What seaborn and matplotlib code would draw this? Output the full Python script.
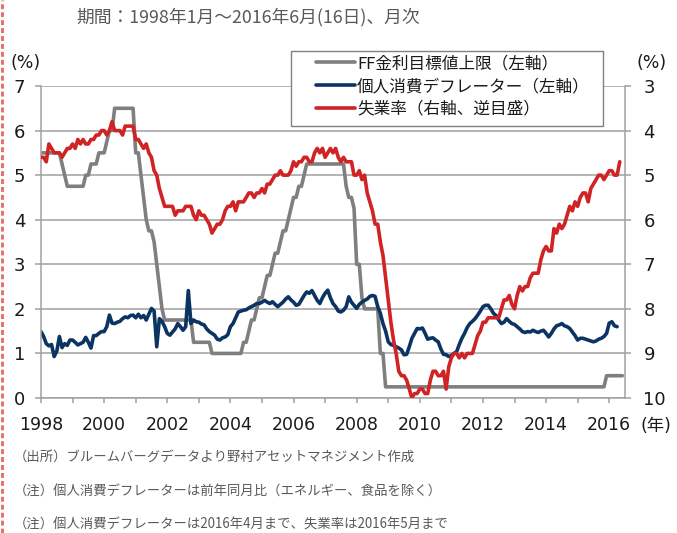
import numpy as np
import pandas as pd
import matplotlib
matplotlib.use("Agg")
import matplotlib.pyplot as plt
import seaborn as sns
from matplotlib.lines import Line2D
from matplotlib.patches import Rectangle
from matplotlib.font_manager import FontProperties

# ---------------- data (monthly, 1998-01 onward) ----------------
start_year = 1998

ff_upper = [
    5.5, 5.5, 5.5, 5.5, 5.5, 5.5, 5.5, 5.5, 5.25, 5.0, 4.75, 4.75,      # 1998
    4.75, 4.75, 4.75, 4.75, 4.75, 5.0, 5.0, 5.25, 5.25, 5.25, 5.5, 5.5,  # 1999
    5.5, 5.75, 6.0, 6.0, 6.5, 6.5, 6.5, 6.5, 6.5, 6.5, 6.5, 6.5,         # 2000
    5.5, 5.5, 5.0, 4.5, 4.0, 3.75, 3.75, 3.5, 3.0, 2.5, 2.0, 1.75,       # 2001
    1.75, 1.75, 1.75, 1.75, 1.75, 1.75, 1.75, 1.75, 1.75, 1.75, 1.25, 1.25,  # 2002
    1.25, 1.25, 1.25, 1.25, 1.25, 1.0, 1.0, 1.0, 1.0, 1.0, 1.0, 1.0,     # 2003
    1.0, 1.0, 1.0, 1.0, 1.0, 1.25, 1.25, 1.5, 1.75, 1.75, 2.0, 2.25,     # 2004
    2.25, 2.5, 2.75, 2.75, 3.0, 3.25, 3.25, 3.5, 3.75, 3.75, 4.0, 4.25,  # 2005
    4.5, 4.5, 4.75, 4.75, 5.0, 5.25, 5.25, 5.25, 5.25, 5.25, 5.25, 5.25,  # 2006
    5.25, 5.25, 5.25, 5.25, 5.25, 5.25, 5.25, 5.25, 4.75, 4.5, 4.5, 4.25,  # 2007
    3.0, 3.0, 2.25, 2.0, 2.0, 2.0, 2.0, 2.0, 2.0, 1.0, 1.0, 0.25,        # 2008
    0.25, 0.25, 0.25, 0.25, 0.25, 0.25, 0.25, 0.25, 0.25, 0.25, 0.25, 0.25,  # 2009
    0.25, 0.25, 0.25, 0.25, 0.25, 0.25, 0.25, 0.25, 0.25, 0.25, 0.25, 0.25,  # 2010
    0.25, 0.25, 0.25, 0.25, 0.25, 0.25, 0.25, 0.25, 0.25, 0.25, 0.25, 0.25,  # 2011
    0.25, 0.25, 0.25, 0.25, 0.25, 0.25, 0.25, 0.25, 0.25, 0.25, 0.25, 0.25,  # 2012
    0.25, 0.25, 0.25, 0.25, 0.25, 0.25, 0.25, 0.25, 0.25, 0.25, 0.25, 0.25,  # 2013
    0.25, 0.25, 0.25, 0.25, 0.25, 0.25, 0.25, 0.25, 0.25, 0.25, 0.25, 0.25,  # 2014
    0.25, 0.25, 0.25, 0.25, 0.25, 0.25, 0.25, 0.25, 0.25, 0.25, 0.25, 0.5,   # 2015
    0.5, 0.5, 0.5, 0.5, 0.5, 0.5,                                        # 2016
]

core_pce = [
    1.49, 1.38, 1.22, 1.17, 1.20, 0.93, 1.05, 1.38, 1.13, 1.22, 1.18, 1.30,  # 1998
    1.30, 1.25, 1.19, 1.22, 1.25, 1.36, 1.25, 1.12, 1.40, 1.40, 1.45, 1.49,  # 1999
    1.49, 1.60, 1.86, 1.68, 1.67, 1.70, 1.72, 1.78, 1.82, 1.80, 1.85, 1.86,  # 2000
    1.80, 1.88, 1.80, 1.85, 1.75, 1.88, 2.01, 1.95, 1.15, 1.78, 1.72, 1.60,  # 2001
    1.45, 1.41, 1.48, 1.55, 1.67, 1.60, 1.52, 1.60, 2.41, 1.67, 1.75, 1.71,  # 2002
    1.70, 1.66, 1.64, 1.55, 1.49, 1.45, 1.41, 1.32, 1.30, 1.35, 1.37, 1.42,  # 2003
    1.60, 1.67, 1.80, 1.93, 1.95, 1.97, 1.98, 2.02, 2.05, 2.08, 2.12, 2.12,  # 2004
    2.15, 2.19, 2.15, 2.12, 2.16, 2.10, 2.05, 2.10, 2.15, 2.22, 2.27, 2.20,  # 2005
    2.15, 2.08, 2.10, 2.20, 2.30, 2.38, 2.35, 2.41, 2.30, 2.19, 2.12, 2.25,  # 2006
    2.35, 2.42, 2.25, 2.12, 2.05, 1.95, 1.93, 1.97, 2.05, 2.27, 2.15, 2.08,  # 2007
    2.01, 2.10, 2.15, 2.19, 2.22, 2.28, 2.30, 2.28, 2.05, 1.90, 1.67, 1.50,  # 2008
    1.26, 1.20, 1.18, 1.15, 1.12, 1.08, 0.97, 0.98, 1.15, 1.34, 1.45, 1.56,  # 2009
    1.55, 1.57, 1.45, 1.32, 1.34, 1.35, 1.30, 1.26, 1.10, 0.98, 0.97, 0.93,  # 2010
    0.95, 1.00, 1.04, 1.20, 1.34, 1.45, 1.58, 1.67, 1.72, 1.78, 1.86, 1.95,  # 2011
    2.05, 2.08, 2.08, 2.00, 1.90, 1.85, 1.75, 1.67, 1.70, 1.78, 1.72, 1.67,  # 2012
    1.65, 1.60, 1.55, 1.49, 1.47, 1.49, 1.48, 1.52, 1.49, 1.47, 1.50, 1.52,  # 2013
    1.45, 1.37, 1.45, 1.55, 1.62, 1.64, 1.67, 1.62, 1.60, 1.56, 1.48, 1.40,  # 2014
    1.30, 1.34, 1.34, 1.32, 1.30, 1.28, 1.26, 1.28, 1.32, 1.34, 1.38, 1.45,  # 2015
    1.68, 1.71, 1.62, 1.60,                                                  # 2016
]

unemployment = [
    4.6, 4.6, 4.7, 4.3, 4.4, 4.5, 4.5, 4.5, 4.6, 4.5, 4.4, 4.4,  # 1998
    4.3, 4.4, 4.2, 4.3, 4.2, 4.3, 4.3, 4.2, 4.2, 4.1, 4.1, 4.0,  # 1999
    4.0, 4.1, 4.0, 3.8, 4.0, 4.0, 4.0, 4.1, 3.9, 3.9, 3.9, 3.9,  # 2000
    4.2, 4.2, 4.3, 4.4, 4.3, 4.5, 4.6, 4.9, 5.0, 5.3, 5.5, 5.7,  # 2001
    5.7, 5.7, 5.7, 5.9, 5.8, 5.8, 5.8, 5.7, 5.7, 5.7, 5.9, 6.0,  # 2002
    5.8, 5.9, 5.9, 6.0, 6.1, 6.3, 6.2, 6.1, 6.1, 6.0, 5.8, 5.7,  # 2003
    5.7, 5.6, 5.8, 5.6, 5.6, 5.6, 5.5, 5.4, 5.4, 5.5, 5.4, 5.4,  # 2004
    5.3, 5.4, 5.2, 5.2, 5.1, 5.0, 5.0, 4.9, 5.0, 5.0, 5.0, 4.9,  # 2005
    4.7, 4.8, 4.7, 4.7, 4.6, 4.6, 4.7, 4.7, 4.5, 4.4, 4.5, 4.4,  # 2006
    4.6, 4.5, 4.4, 4.5, 4.4, 4.6, 4.7, 4.6, 4.7, 4.7, 4.7, 5.0,  # 2007
    5.0, 4.9, 5.1, 5.0, 5.4, 5.6, 5.8, 6.1, 6.1, 6.5, 6.8, 7.3,  # 2008
    7.8, 8.3, 8.7, 9.0, 9.4, 9.5, 9.5, 9.6, 9.8, 10.0, 9.9, 9.9,  # 2009
    9.8, 9.8, 9.9, 9.9, 9.6, 9.4, 9.4, 9.5, 9.5, 9.4, 9.8, 9.3,  # 2010
    9.1, 9.0, 9.0, 9.1, 9.0, 9.1, 9.0, 9.0, 9.0, 8.8, 8.6, 8.5,  # 2011
    8.3, 8.3, 8.2, 8.2, 8.2, 8.2, 8.2, 8.0, 7.8, 7.8, 7.7, 7.9,  # 2012
    8.0, 7.7, 7.5, 7.6, 7.5, 7.5, 7.3, 7.2, 7.2, 7.2, 6.9, 6.7,  # 2013
    6.6, 6.7, 6.7, 6.2, 6.3, 6.1, 6.2, 6.1, 5.9, 5.7, 5.8, 5.6,  # 2014
    5.7, 5.5, 5.4, 5.4, 5.6, 5.3, 5.2, 5.1, 5.0, 5.0, 5.1, 5.0,  # 2015
    4.9, 4.9, 5.0, 5.0, 4.7,                                     # 2016
]

series_labels = ["FF金利目標値上限（左軸）", "個人消費デフレーター（左軸）", "失業率（右軸、逆目盛）"]
left_ticks = [0, 1, 2, 3, 4, 5, 6, 7]
right_ticks = [3, 4, 5, 6, 7, 8, 9, 10]
year_ticks = list(range(1998, 2017))
year_labels = [str(y) if y % 2 == 0 else "" for y in year_ticks]
title_text = "期間：1998年1月～2016年6月(16日)、月次"
notes = [
    "（出所）ブルームバーグデータより野村アセットマネジメント作成",
    "（注）個人消費デフレーターは前年同月比（エネルギー、食品を除く）",
    "（注）個人消費デフレーターは2016年4月まで、失業率は2016年5月まで",
]


def frame(values):
    n = len(values)
    return pd.DataFrame({"x": start_year + np.arange(n) / 12.0, "y": values})


df_ff = frame(ff_upper)
df_pce = frame(core_pce)
df_ur = frame(unemployment)

# ---------------- styling ----------------
sns.set_theme(style="white")
plt.rcParams["font.family"] = ["DejaVu Sans", "Noto Sans CJK JP"]
JP = ["Noto Sans CJK JP", "DejaVu Sans"]

W, H = 677, 533
GRID = "#a0a0a0"
C_FF = "#7f7f7f"
C_PCE = "#0b3463"
C_UR = "#d02424"
TXT = "#1a1a1a"
NOTE = "#595959"

fig = plt.figure(figsize=(W / 100, H / 100), dpi=100)
ax = fig.add_axes([41 / W, 1 - 398 / H, (625 - 41) / W, (398 - 86) / H])
ax2 = ax.twinx()

sns.lineplot(data=df_ff, x="x", y="y", ax=ax, color=C_FF, lw=2.6, legend=False)
sns.lineplot(data=df_pce, x="x", y="y", ax=ax, color=C_PCE, lw=2.6, legend=False)
sns.lineplot(data=df_ur, x="x", y="y", ax=ax2, color=C_UR, lw=2.6, legend=False)

ax.set_xlim(1998, 2016.5)
ax.set_ylim(0, 7)
ax2.set_ylim(10, 3)
ax.set_xlabel("")
ax.set_ylabel("")
ax2.set_ylabel("")

ax.set_yticks(left_ticks)
ax.set_yticklabels([str(t) for t in left_ticks])
ax2.set_yticks(right_ticks)
ax2.set_yticklabels([str(t) for t in right_ticks])
ax.set_xticks(year_ticks)
ax.set_xticklabels(year_labels)

ax.yaxis.grid(True, color=GRID, lw=1.1)
ax.xaxis.grid(False)
ax.set_axisbelow(True)

for a in (ax, ax2):
    for s in a.spines.values():
        s.set_visible(False)
ax.spines["left"].set_visible(True)
ax.spines["bottom"].set_visible(True)
ax2.spines["right"].set_visible(True)
for s in (ax.spines["left"], ax.spines["bottom"], ax2.spines["right"]):
    s.set_color(GRID)
    s.set_linewidth(1.1)

ax.tick_params(axis="y", which="both", direction="out", length=4.3, width=1.1,
               color=GRID, pad=7, labelsize=13, labelcolor=TXT, left=True)
ax.tick_params(axis="x", direction="out", length=3.6, width=1.1, color=GRID,
               pad=9.5, labelsize=12.5, labelcolor=TXT, bottom=True)
ax2.tick_params(axis="y", direction="out", length=4.3, width=1.1, color=GRID,
                pad=9, labelsize=13, labelcolor=TXT, right=True)

# legend
handles = [Line2D([], [], color=c, lw=2.6) for c in (C_FF, C_PCE, C_UR)]
fig.patches.append(Rectangle((291 / W, 1 - 126 / H), (603 - 291) / W, (126 - 51) / H,
                             transform=fig.transFigure, facecolor="white",
                             edgecolor="#808080", lw=1.0, zorder=3))
fig.legend(handles, series_labels, loc="upper left",
           bbox_to_anchor=(316 / W, 1 - 55 / H), frameon=False,
           prop=FontProperties(family=JP, size=12), handlelength=2.35,
           handletextpad=0.12, labelspacing=0.35, borderpad=0, borderaxespad=0,
           labelcolor=TXT)

# texts
fig.text(248 / W, 1 - 17 / H, title_text, ha="center", va="center",
         color=NOTE, fontsize=12.8, family=JP)
fig.text(26 / W, 1 - 63 / H, "(%)", ha="center", va="center", fontsize=12.5, color=TXT)
fig.text(652 / W, 1 - 63 / H, "(%)", ha="center", va="center", fontsize=12.5, color=TXT)
fig.text(656 / W, 1 - 426 / H, "(年)", ha="center", va="center", fontsize=12.5, color=TXT)
for i, t in enumerate(notes):
    fig.text(14 / W, 1 - (458 + 33.5 * i) / H, t, ha="left", va="center",
             color=NOTE, fontsize=9.6, family=JP)

# dashed left border
fig.add_artist(Line2D([2 / W, 2 / W], [0, 1], transform=fig.transFigure,
                      color="#e57373", lw=2.2, dashes=(1.6, 1.0)))

fig.savefig("out.png", dpi=100)
